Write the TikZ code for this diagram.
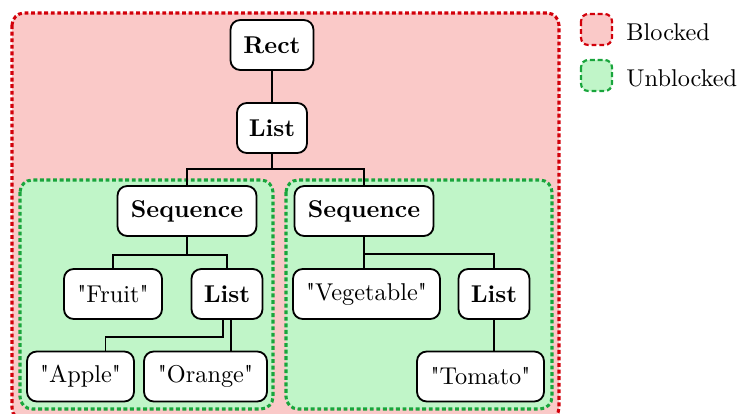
\documentclass[tikz,border=0pt]{standalone}
\usepackage{fontspec}
% Latin Modern without the TeX input mapping, so that " stays a straight quote
\setmainfont{lmroman10-regular.otf}[
  BoldFont=lmroman10-bold.otf,
  ItalicFont=lmroman10-italic.otf,
  Ligatures=TeXOff]
\usetikzlibrary{calc}

\definecolor{blockfill}{RGB}{250,201,200}
\definecolor{blockline}{RGB}{210,0,10}
\definecolor{freefill}{RGB}{192,245,200}
\definecolor{freeline}{RGB}{25,165,60}

% one drawing unit in points
\newcommand\pxlen[1]{#1*0.4115pt}

\tikzset{
  tnode/.style={draw=black, fill=white, rounded corners=4pt, line width=0.75pt,
                minimum height=\pxlen{50}, inner sep=0pt},
  wide/.style={minimum width=\pxlen{#1}},
  link/.style={draw=black, line width=0.75pt},
  blockregion/.style={fill=blockfill, draw=blockline, line width=1.25pt,
                      dash pattern=on 1.6pt off 1.1pt, rounded corners=5pt},
  freeregion/.style={fill=freefill, draw=freeline, line width=1.25pt,
                     dash pattern=on 1.6pt off 1.1pt, rounded corners=5pt},
  blockkey/.style={fill=blockfill, draw=blockline, line width=0.9pt,
                   dash pattern=on 2pt off 1.2pt, rounded corners=3pt},
  freekey/.style={fill=freefill, draw=freeline, line width=0.9pt,
                  dash pattern=on 2pt off 1.2pt, rounded corners=3pt},
  keytext/.style={anchor=west, inner sep=0pt}
}

\begin{document}
\begin{tikzpicture}[x=0.4115pt, y=-0.4115pt]
  \clip (0,0) rectangle (740,414);

  % regions
  \draw[blockregion] (12,13) rectangle (559,420);
  \draw[freeregion] (20,180) rectangle (273,409);
  \draw[freeregion] (286,180) rectangle (552,409);

  % legend
  \draw[blockkey] (581,14) rectangle (612,45);
  \draw[freekey] (581,60) rectangle (612,91);
  \node[keytext] (kblock) at (626,32) {Blocked};
  \node[keytext] (kfree) at (626,78) {Unblocked};

  % tree nodes
  \node[tnode, wide=83]  (rect)   at (272,45)     {\textbf{Rect}};
  \node[tnode, wide=70]  (listA)  at (272,128)    {\textbf{List}};
  \node[tnode, wide=139] (seqL)   at (187,211)    {\textbf{Sequence}};
  \node[tnode, wide=139] (seqR)   at (364,211)    {\textbf{Sequence}};
  \node[tnode, wide=98]  (fruit)  at (113,294)    {"Fruit"};
  \node[tnode, wide=71]  (listL)  at (227,294)    {\textbf{List}};
  \node[tnode, wide=147] (veg)    at (366.5,294)  {"Vegetable"};
  \node[tnode, wide=71]  (listR)  at (494,294)    {\textbf{List}};
  \node[tnode, wide=107] (apple)  at (80.5,376.5) {"Apple"};
  \node[tnode, wide=123] (orange) at (205.5,376.5){"Orange"};
  \node[tnode, wide=127] (tomato) at (480.5,376.5){"Tomato"};

  % exit points under the left List
  \coordinate (listLa) at ($(listL.south)+(-4,0)$);
  \coordinate (listLb) at ($(listL.south)+(4,0)$);
  \coordinate (appleIn) at ($(apple.north)+(25,0)$);

  % connectors
  \draw[link] (rect.south) -- (listA.north);
  \draw[link] (listA.south) -- ++(0,15) -| (seqL.north);
  \draw[link] (listA.south) -- ++(0,15) -| (seqR.north);

  \draw[link] (seqL.south) -- ++(0,18) -| (fruit.north);
  \draw[link] (seqL.south) -- ++(0,18) -| (listL.north);
  \draw[link] (listLa) -- ++(0,17) -| (appleIn);
  \draw[link] (listLb) -- (listLb |- orange.north);

  \draw[link] (seqR.south) -- (seqR.south |- veg.north);
  \draw[link] (seqR.south) -- ++(0,17) -| (listR.north);
  \draw[link] (listR.south) -- (listR.south |- tomato.north);
\end{tikzpicture}
\end{document}
